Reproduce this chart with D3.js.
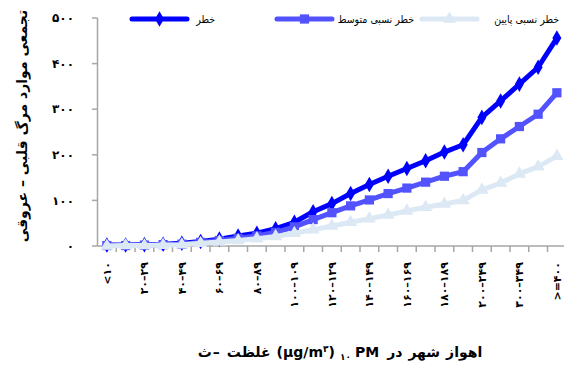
<!DOCTYPE html>
<html>
<head>
<meta charset="utf-8">
<script src="https://cdn.jsdelivr.net/npm/d3@7"></script>
<style>
  body { margin: 0; background: #fff; }
  svg { display: block; font-family: "DejaVu Sans", sans-serif; }
</style>
</head>
<body>
<svg id="chart" width="564" height="371"></svg>
<script>
// categories of PM10 concentration (persian digits)
var categories = ["\u003C۱۰","۱۰–۱۹","۲۰–۲۹","۳۰–۳۹","۴۰–۴۹","۵۰–۵۹","۶۰–۶۹","۷۰–۷۹","۸۰–۸۹","۹۰–۹۹",
  "۱۰۰–۱۰۹","۱۱۰–۱۱۹","۱۲۰–۱۲۹","۱۳۰–۱۳۹","۱۴۰–۱۴۹","۱۵۰–۱۵۹","۱۶۰–۱۶۹","۱۷۰–۱۷۹","۱۸۰–۱۸۹","۱۹۰–۱۹۹",
  "۲۰۰–۲۴۹","۲۵۰–۲۹۹","۳۰۰–۳۴۹","۳۵۰–۳۹۹","\u003E=۴۰۰"];

var seriesNames = ["خطر", "خطر نسبی متوسط", "خطر نسبی پایین"];

var risk     = [2, 2, 3, 4, 6, 10, 15, 22, 28, 38, 52, 75, 93, 115, 135, 153, 170, 187, 206, 222, 282, 318, 355, 392, 456];
var riskMid  = [1, 1, 2, 3, 4, 8, 12, 17, 22, 30, 42, 58, 73, 88, 101, 115, 127, 140, 153, 163, 205, 235, 262, 289, 336];
var riskLow  = [0, 1, 1, 2, 3, 6, 9, 12, 16, 21, 28, 36, 44, 52, 60, 68, 77, 85, 92, 100, 123, 138, 158, 174, 197];

var yTicks = [0, 100, 200, 300, 400, 500];
var yTickLabels = ["۰", "۱۰۰", "۲۰۰", "۳۰۰", "۴۰۰", "۵۰۰"];

// x title pieces, in visual order left to right (sub/superscripts marked)
var xTitleWords = ["ث", "–", "غلظت", "(µg/m", "۳", ")", "۱۰", "PM", "در", "شهر", "اهواز"];
var xTitleKind  = ["", "", "", "", "sup", "", "sub", "", "", "", ""];

var svg = d3.select("#chart");

var x = d3.scaleBand().domain(categories).range([97.5, 97.5 + 25 * 18.75]);
var y = d3.scaleLinear().domain([0, 500]).range([246, 18]);

var axisColor = "#a6a6a6";

// y axis
svg.append("line").attr("x1", 97.5).attr("x2", 97.5).attr("y1", y(500)).attr("y2", y(0))
  .attr("stroke", axisColor).attr("stroke-width", 1.5);
svg.selectAll(".ytick").data(yTicks).enter().append("line")
  .attr("x1", 92).attr("x2", 97.5)
  .attr("y1", function(d){ return y(d); }).attr("y2", function(d){ return y(d); })
  .attr("stroke", axisColor).attr("stroke-width", 1.5);
svg.selectAll(".ylab").data(yTicks).enter().append("text")
  .attr("x", 74).attr("y", function(d){ return y(d); }).attr("dy", "0.35em")
  .attr("text-anchor", "end").attr("font-size", 12).attr("font-weight", "bold")
  .attr("letter-spacing", 2)
  .text(function(d, i){ return yTickLabels[i]; });

// x axis
svg.append("line").attr("x1", 97.5).attr("x2", 566).attr("y1", y(0)).attr("y2", y(0))
  .attr("stroke", axisColor).attr("stroke-width", 1.5);
svg.selectAll(".xtick").data(categories).enter().append("line")
  .attr("x1", function(d){ return x(d) + x.bandwidth(); })
  .attr("x2", function(d){ return x(d) + x.bandwidth(); })
  .attr("y1", y(0)).attr("y2", y(0) + 6)
  .attr("stroke", axisColor).attr("stroke-width", 1.5);

var cx = function(d){ return x(d) + x.bandwidth() / 2; };

svg.selectAll(".xlab").data(categories.filter(function(d, i){ return i % 2 == 0; }))
  .enter().append("text")
  .attr("transform", function(d){ return "translate(" + cx(d) + ",262) rotate(-90)"; })
  .attr("dy", "0.35em").attr("text-anchor", "end")
  .attr("font-size", 11).attr("font-weight", "bold")
  .text(function(d){ return d; });

// series
var series = [
  { name: seriesNames[0], values: risk,    color: "#0000ff", shape: d3.symbolDiamond, size: 70 },
  { name: seriesNames[1], values: riskMid, color: "#5252ff", shape: d3.symbolSquare,  size: 85 },
  { name: seriesNames[2], values: riskLow, color: "#dce9f5", shape: d3.symbolTriangle, size: 75 }
];

var line = d3.line()
  .x(function(d, i){ return cx(categories[i]); })
  .y(function(d){ return y(d); });

series.forEach(function(s){
  var g = svg.append("g");
  g.append("path").attr("d", line(s.values)).attr("fill", "none")
    .attr("stroke", s.color).attr("stroke-width", 5).attr("stroke-linejoin", "round");
  g.selectAll("path.m").data(s.values).enter().append("path")
    .attr("class", "m")
    .attr("d", d3.symbol().type(s.shape).size(s.size))
    .attr("transform", function(d, i){ return "translate(" + cx(categories[i]) + "," + y(d) + ")"; })
    .attr("fill", s.color);
});

// legend: line start and text right edge
var legendX = [132, 277, 422];
var legendTextEnd = [215, 414, 559];
series.forEach(function(s, i){
  var g = svg.append("g").attr("transform", "translate(" + legendX[i] + ",19)");
  g.append("line").attr("x1", 0).attr("x2", 55).attr("stroke", s.color)
    .attr("stroke-width", 5).attr("stroke-linecap", "round");
  g.append("path").attr("d", d3.symbol().type(s.shape).size(s.size))
    .attr("transform", "translate(27.5,0)").attr("fill", s.color);
  g.append("text").attr("x", legendTextEnd[i] - legendX[i]).attr("dy", "0.35em")
    .attr("text-anchor", "end").attr("font-size", 10.5)
    .attr("font-family", "'DejaVu Sans Condensed', 'DejaVu Sans', sans-serif")
    .text(s.name);
});

// y axis title
svg.append("text")
  .attr("transform", "translate(22,126) rotate(-90)")
  .attr("dy", "0.35em")
  .attr("text-anchor", "middle").attr("font-size", 14).attr("font-weight", "bold")
  .text("تجمعی موارد مرگ قلبی – عروقی");

// x axis title, piece by piece so the order stays as in the picture
var gaps = [1, 7, 6, 0, 0, 5, 4, 8, 6, 6, 0];
var pieces = svg.append("g").selectAll("text").data(xTitleWords).enter().append("text")
  .attr("y", 357)
  .attr("font-size", function(d, i){ return xTitleKind[i] ? 9 : 14; })
  .attr("dy", function(d, i){ return xTitleKind[i] == "sub" ? 3 : (xTitleKind[i] == "sup" ? -5 : 0); })
  .attr("font-weight", "bold")
  .text(function(d){ return d; });
var widths = [];
pieces.each(function(){ widths.push(this.getComputedTextLength()); });
var total = d3.sum(widths) + d3.sum(gaps);
var pos = 340 - total / 2;
pieces.attr("x", function(d, i){ var p = pos; pos += widths[i] + gaps[i]; return p; });
</script>
</body>
</html>
